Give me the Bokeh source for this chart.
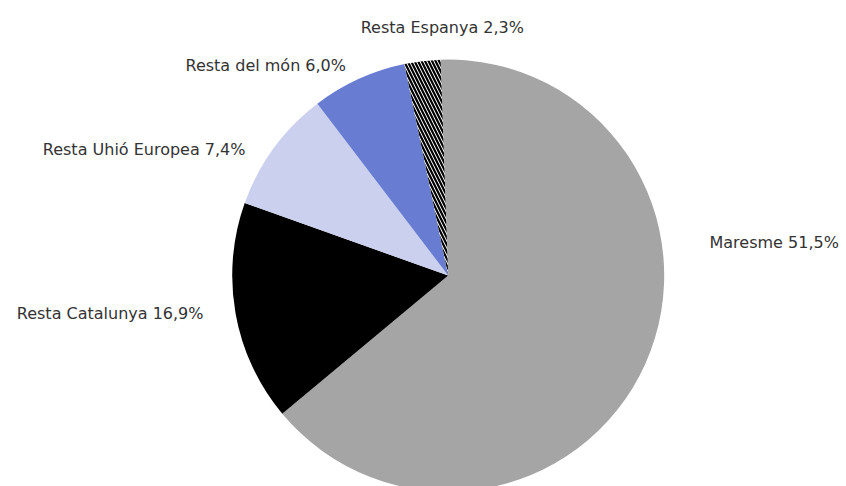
import math
from bokeh.plotting import figure
from bokeh.models import Range1d, ColumnDataSource
from bokeh.core.properties import value
from bokeh.embed import file_html
from bokeh.resources import INLINE

# ---- data ----
categories = ["Maresme", "Resta Catalunya", "Resta Uhió Europea", "Resta del món", "Resta Espanya"]
label_pcts = ["51,5%", "16,9%", "7,4%", "6,0%", "2,3%"]
# slice shares as drawn in the picture (percent of the full circle)
shares = [64.5, 16.5, 9.2, 7.1, 2.7]

# ---- styles / layout ----
colors = ["#a5a5a5", "#000000", "#cad0ee", "#687dd2", "#ffffff"]
hatches = ["blank", "blank", "blank", "blank", "\\"]
W, H = 846, 486
OFF = 0  # where the figure lands in the photographed picture


def px(x):
    return x - OFF


def py(y):
    return (H + OFF) - y


cx, cy, R = px(447.7), py(275.0), 216.0
start_deg = 92.0
# label anchors in picture pixels: (x, vertical centre y, align)
label_pos = [
    (709.0, 241.5, "left"),
    (203.0, 313.0, "right"),
    (245.0, 148.5, "right"),
    (345.5, 65.0, "right"),
    (523.5, 26.5, "right"),
]

total = sum(shares)
ends, starts = [], []
a = start_deg
for s in shares:
    a1 = a - s * 360.0 / total
    ends.append(math.radians(a))
    starts.append(math.radians(a1))
    a = a1

src = ColumnDataSource(dict(
    start=starts, end=ends, color=colors, hatch=hatches,
    x=[cx] * len(shares), y=[cy] * len(shares),
))

p = figure(width=W, height=H, output_backend="svg", toolbar_location=None,
           x_range=Range1d(0, W), y_range=Range1d(0, H), min_border=0)
p.axis.visible = False
p.grid.visible = False
p.outline_line_color = None
p.background_fill_color = "white"
p.border_fill_color = "white"

p.wedge(x="x", y="y", radius=R, start_angle="start", end_angle="end",
        fill_color="color", line_color=None, hatch_pattern="hatch",
        hatch_color="black", hatch_scale=7, hatch_weight=2.2, source=src)

texts = [f"{c} {v}" for c, v in zip(categories, label_pcts)]
for t, (lx, ly, al) in zip(texts, label_pos):
    p.text(x=[px(lx)], y=[py(ly)], text=[t], text_font=value("DejaVu Sans"),
           text_font_size="16px", text_color="#333333", text_align=al,
           text_baseline="middle")

open("out.html", "w").write(file_html(p, INLINE))
